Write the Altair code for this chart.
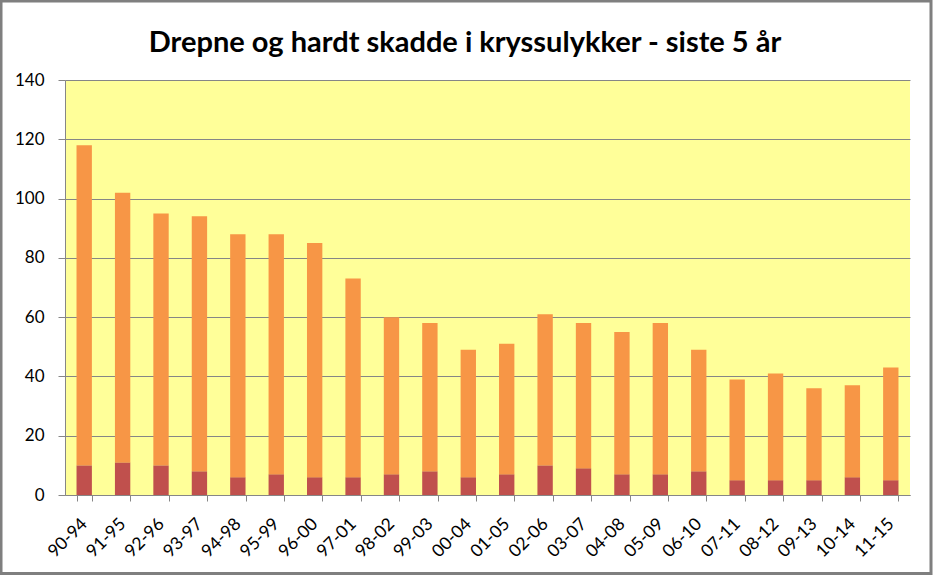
import altair as alt
import pandas as pd

categories = ["90-94", "91-95", "92-96", "93-97", "94-98", "95-99", "96-00", "97-01",
              "98-02", "99-03", "00-04", "01-05", "02-06", "03-07", "04-08", "05-09",
              "06-10", "07-11", "08-12", "09-13", "10-14", "11-15"]
drepte = [10, 11, 10, 8, 6, 7, 6, 6, 7, 8, 6, 7, 10, 9, 7, 7, 8, 5, 5, 5, 6, 5]
totalt = [118, 102, 95, 94, 88, 88, 85, 73, 60, 58, 49, 51, 61, 58, 55, 58, 49, 39, 41, 36, 37, 43]
hardt_skadde = [t - d for t, d in zip(totalt, drepte)]

series = ["Drepte", "Hardt skadde"]
colors = ["#C0504D", "#F79646"]
title_text = "Drepne og hardt skadde i kryssulykker - siste 5 år"

rows = []
for c, d, h in zip(categories, drepte, hardt_skadde):
    rows.append({"periode": c, "serie": series[0], "antall": d, "rekke": 0})
    rows.append({"periode": c, "serie": series[1], "antall": h, "rekke": 1})
df = pd.DataFrame(rows)

FONT = "Lato"

bars = alt.Chart(df).mark_bar().encode(
    x=alt.X("periode:N", sort=categories, title=None,
            scale=alt.Scale(paddingInner=0.6, paddingOuter=0.3),
            axis=alt.Axis(labelAngle=-45, labelAlign="right", labelBaseline="middle",
                          labelPadding=20, tickBand="extent", tickSize=6,
                          tickColor="#868686", domainColor="#868686",
                          labelFontSize=17.5, labelColor="#000000", labelFont=FONT)),
    y=alt.Y("antall:Q", stack="zero", title=None,
            scale=alt.Scale(domain=[0, 140], nice=False),
            axis=alt.Axis(values=[0, 20, 40, 60, 80, 100, 120, 140], tickSize=7,
                          tickColor="#868686", domainColor="#868686",
                          gridColor="#868686", gridWidth=1, labelPadding=14,
                          labelFontSize=17, labelColor="#000000", labelFont=FONT)),
    color=alt.Color("serie:N", scale=alt.Scale(domain=series, range=colors), legend=None),
    order=alt.Order("rekke:Q", sort="ascending"),
)

meta = pd.DataFrame({"tittel": [title_text]})

frame = alt.Chart(meta).mark_rect(
    fill=None, stroke="#7F7F7F", strokeWidth=3
).encode(
    x=alt.value(-64), x2=alt.value(866), y=alt.value(-79), y2=alt.value(493.5)
)

title = alt.Chart(meta).mark_text(
    font=FONT, fontSize=29, fontWeight="bold", color="#000000",
    align="center", baseline="alphabetic"
).encode(
    text="tittel:N", x=alt.value(400), y=alt.value(-28)
)

chart = alt.layer(bars, frame, title).properties(
    width=845, height=415,
    padding={"left": 65, "top": 80, "right": 23, "bottom": 80},
    autosize=alt.AutoSizeParams(type="none"),
).configure(
    background="#FFFFFF",
    view=alt.ViewConfig(fill="#FFFF99", stroke=None),
)

chart.save("out.html", embed_options={"renderer": "svg", "actions": False})
